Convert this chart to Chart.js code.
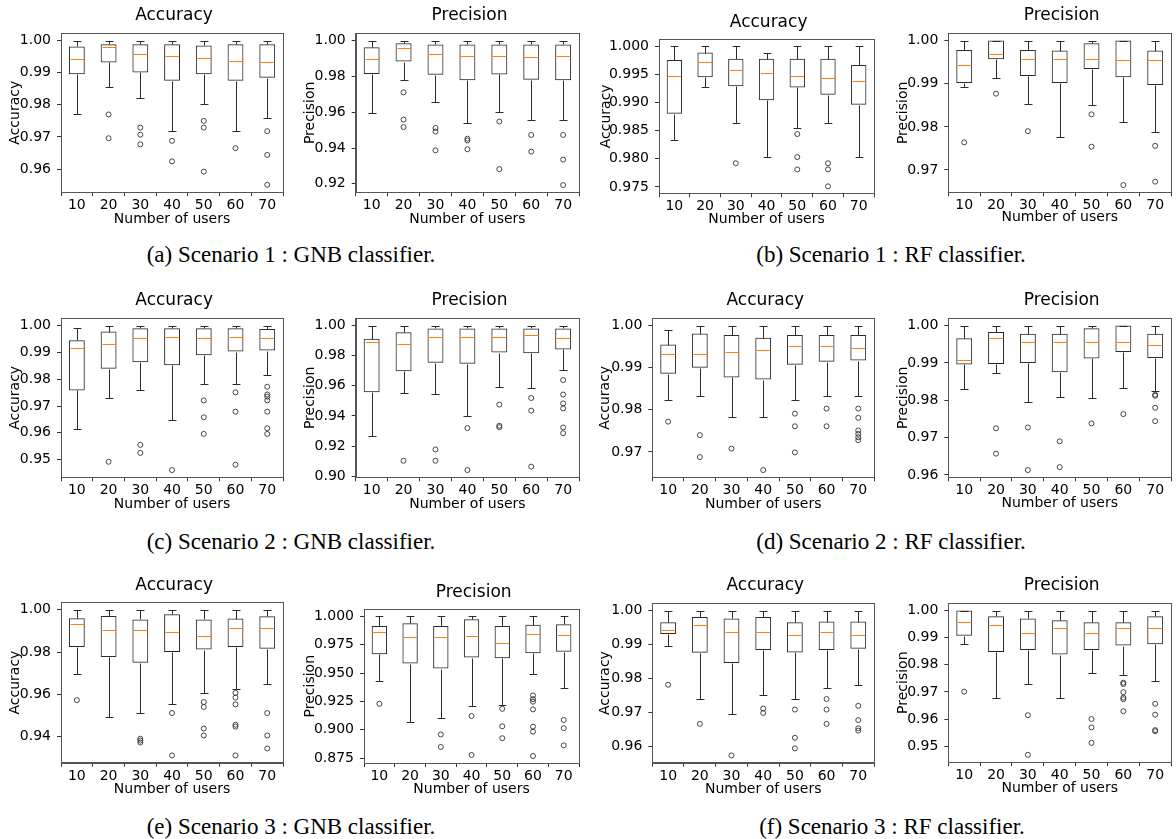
<!DOCTYPE html>
<html>
<head>
<meta charset="utf-8">
<script src="https://cdn.jsdelivr.net/npm/chart.js@4.4.1/dist/chart.umd.min.js"></script>
<style>
  html, body { margin: 0; padding: 0; background: #fff; }
  #page { position: relative; width: 1176px; height: 839px; overflow: hidden; background: #fff; }
  .caption, .ptitle {
    position: absolute;
    color: #000;
    white-space: nowrap;
    transform: translate(-50%, -50%);
    line-height: 1;
  }
  .caption { font-family: "Liberation Serif", "Times New Roman", serif; font-size: 23px; }
  .ptitle { font-family: "DejaVu Sans", sans-serif; font-size: 17px; }
</style>
</head>
<body>
<div id="page"></div>
<script>
const users = ['10', '20', '30', '40', '50', '60', '70'];

// box statistics per panel: whisker ends, quartiles, median and outliers
const s1GnbAcc = {
  lo:  [0.9770, 0.9854, 0.9822, 0.9717, 0.9802, 0.9717, 0.9759],
  q1:  [0.9895, 0.9932, 0.9901, 0.9875, 0.9895, 0.9875, 0.9884],
  med: [0.9942, 0.9979, 0.9959, 0.9952, 0.9947, 0.9937, 0.9933],
  q3:  [0.9982, 0.9989, 0.9989, 0.9989, 0.9985, 0.9989, 0.9989],
  hi:  [1.0, 1.0, 1.0, 1.0, 1.0, 1.0, 1.0],
  fliers: [[], [0.9770, 0.9696], [0.9729, 0.9707, 0.9677], [0.9688, 0.9624], [0.9750, 0.9729, 0.9592], [0.9665], [0.9718, 0.9644, 0.9551]],
  ticks: [0.96, 0.97, 0.98, 0.99, 1.00]
};
const s1GnbPrec = {
  lo:  [0.9597, 0.9778, 0.9657, 0.9538, 0.9603, 0.9554, 0.9554],
  q1:  [0.9814, 0.9883, 0.9809, 0.9779, 0.9811, 0.9781, 0.9779],
  med: [0.9895, 0.9958, 0.9927, 0.9916, 0.9916, 0.9906, 0.9916],
  q3:  [0.9963, 0.9986, 0.9979, 0.9979, 0.9979, 0.9979, 0.9979],
  hi:  [1.0, 1.0, 1.0, 1.0, 1.0, 1.0, 1.0],
  fliers: [[], [0.9711, 0.9559, 0.9517], [0.9512, 0.9492, 0.9387], [0.9452, 0.9442, 0.9393], [0.9548, 0.9282], [0.9473, 0.9380], [0.9473, 0.9335, 0.9193]],
  ticks: [0.92, 0.94, 0.96, 0.98, 1.00]
};
const s1RfAcc = {
  lo:  [0.9833, 0.9927, 0.9864, 0.9803, 0.9854, 0.9864, 0.9803],
  q1:  [0.9880, 0.9945, 0.9929, 0.9904, 0.9927, 0.9914, 0.9896],
  med: [0.9948, 0.9973, 0.9958, 0.9953, 0.9948, 0.9943, 0.9938],
  q3:  [0.9976, 0.9989, 0.9978, 0.9978, 0.9978, 0.9978, 0.9967],
  hi:  [1.0, 1.0, 1.0, 0.9989, 1.0, 1.0, 1.0],
  fliers: [[], [], [0.9792], [], [0.9844, 0.9803, 0.9781], [0.9792, 0.9781, 0.9751], []],
  ticks: [0.975, 0.980, 0.985, 0.990, 0.995, 1.000]
};
const s1RfPrec = {
  lo:  [0.9892, 0.9914, 0.9852, 0.9776, 0.9850, 0.9812, 0.9788],
  q1:  [0.9902, 0.9957, 0.9918, 0.9902, 0.9934, 0.9915, 0.9897],
  med: [0.9944, 0.9968, 0.9957, 0.9957, 0.9957, 0.9955, 0.9955],
  q3:  [0.9978, 1.0, 0.9978, 0.9977, 0.9994, 1.0, 0.9977],
  hi:  [1.0, 1.0, 1.0, 1.0, 1.0, 1.0, 1.0],
  fliers: [[0.9764], [0.9877], [0.9790], [], [0.9829, 0.9754], [0.9665], [0.9756, 0.9673]],
  ticks: [0.97, 0.98, 0.99, 1.00]
};
const s2GnbAcc = {
  lo:  [0.9616, 0.9730, 0.9761, 0.9646, 0.9782, 0.9782, 0.9815],
  q1:  [0.9758, 0.9839, 0.9863, 0.9852, 0.9889, 0.9903, 0.9907],
  med: [0.9916, 0.9933, 0.9954, 0.9958, 0.9954, 0.9958, 0.9954],
  q3:  [0.9945, 0.9978, 0.9990, 0.9990, 0.9990, 0.9990, 0.9987],
  hi:  [0.9990, 1.0, 1.0, 1.0, 1.0, 1.0, 1.0],
  fliers: [[], [0.9492], [0.9555, 0.9525], [0.9461], [0.9721, 0.9658, 0.9596], [0.9751, 0.9679, 0.9481], [0.9772, 0.9743, 0.9735, 0.9721, 0.9679, 0.9617, 0.9596]],
  ticks: [0.95, 0.96, 0.97, 0.98, 0.99, 1.00]
};
const s2GnbPrec = {
  lo:  [0.9269, 0.9552, 0.9548, 0.9400, 0.9594, 0.9585, 0.9706],
  q1:  [0.9558, 0.9696, 0.9754, 0.9746, 0.9821, 0.9817, 0.9842],
  med: [0.9888, 0.9875, 0.9923, 0.9927, 0.9927, 0.9938, 0.9917],
  q3:  [0.9913, 0.9956, 0.9981, 0.9981, 0.9981, 0.9981, 0.9981],
  hi:  [1.0, 1.0, 1.0, 1.0, 1.0, 1.0, 1.0],
  fliers: [[], [0.9102], [0.9177, 0.9102], [0.9319, 0.9040], [0.9475, 0.9335, 0.9325], [0.9519, 0.9435, 0.9063], [0.9638, 0.9542, 0.9483, 0.9450, 0.9323, 0.9285]],
  ticks: [0.90, 0.92, 0.94, 0.96, 0.98, 1.00]
};
const s2RfAcc = {
  lo:  [0.9824, 0.9833, 0.9783, 0.9783, 0.9824, 0.9833, 0.9833],
  q1:  [0.9886, 0.9900, 0.9877, 0.9872, 0.9907, 0.9914, 0.9917],
  med: [0.9933, 0.9933, 0.9938, 0.9942, 0.9952, 0.9952, 0.9948],
  q3:  [0.9955, 0.9981, 0.9978, 0.9971, 0.9978, 0.9978, 0.9978],
  hi:  [0.9990, 1.0, 1.0, 1.0, 1.0, 1.0, 1.0],
  fliers: [[0.9772], [0.9740, 0.9688], [0.9708], [0.9657], [0.9791, 0.9761, 0.9699], [0.9803, 0.9761], [0.9803, 0.9781, 0.9751, 0.9743, 0.9735, 0.9728]],
  ticks: [0.97, 0.98, 0.99, 1.00]
};
const s2RfPrec = {
  lo:  [0.9830, 0.9872, 0.9795, 0.9810, 0.9805, 0.9832, 0.9826],
  q1:  [0.9896, 0.9897, 0.9900, 0.9875, 0.9912, 0.9929, 0.9913],
  med: [0.9907, 0.9966, 0.9956, 0.9957, 0.9956, 0.9957, 0.9948],
  q3:  [0.9966, 0.9983, 0.9978, 0.9978, 0.9993, 1.0, 0.9978],
  hi:  [1.0, 1.0, 1.0, 1.0, 1.0, 1.0, 1.0],
  fliers: [[], [0.9725, 0.9657], [0.9727, 0.9613], [0.9690, 0.9621], [0.9738], [0.9763], [0.9815, 0.9812, 0.9780, 0.9744]],
  ticks: [0.96, 0.97, 0.98, 0.99, 1.00]
};
const s3GnbAcc = {
  lo:  [0.9696, 0.9491, 0.9512, 0.9553, 0.9606, 0.9625, 0.9647],
  q1:  [0.9824, 0.9777, 0.9750, 0.9800, 0.9812, 0.9824, 0.9815],
  med: [0.9933, 0.9902, 0.9902, 0.9896, 0.9875, 0.9915, 0.9915],
  q3:  [0.9960, 0.9970, 0.9954, 0.9979, 0.9954, 0.9958, 0.9969],
  hi:  [1.0, 1.0, 1.0, 1.0, 1.0, 1.0, 1.0],
  fliers: [[0.9573], [], [0.9391, 0.9382, 0.9373], [0.9512, 0.9312], [0.9564, 0.9541, 0.9439, 0.9406], [0.9607, 0.9585, 0.9553, 0.9457, 0.9448, 0.9312], [0.9512, 0.9406, 0.9345]],
  ticks: [0.94, 0.96, 0.98, 1.00]
};
const s3GnbPrec = {
  lo:  [0.9427, 0.9072, 0.9108, 0.9210, 0.9218, 0.9488, 0.9372],
  q1:  [0.9667, 0.9584, 0.9540, 0.9637, 0.9631, 0.9675, 0.9689],
  med: [0.9862, 0.9816, 0.9816, 0.9824, 0.9761, 0.9843, 0.9835],
  q3:  [0.9915, 0.9939, 0.9915, 0.9975, 0.9915, 0.9926, 0.9931],
  hi:  [1.0, 1.0, 1.0, 1.0, 1.0, 1.0, 1.0],
  fliers: [[0.9229], [], [0.8959, 0.8849], [0.9122, 0.8778], [0.9185, 0.9031, 0.8926], [0.9303, 0.9270, 0.9248, 0.9180, 0.9028, 0.8984, 0.8769], [0.9086, 0.9014, 0.8863]],
  ticks: [0.875, 0.900, 0.925, 0.950, 0.975, 1.000]
};
const s3RfAcc = {
  lo:  [0.9896, 0.9741, 0.9695, 0.9751, 0.9739, 0.9773, 0.9781],
  q1:  [0.9931, 0.9876, 0.9846, 0.9884, 0.9877, 0.9884, 0.9888],
  med: [0.9943, 0.9958, 0.9937, 0.9937, 0.9929, 0.9937, 0.9929],
  q3:  [0.9966, 0.9981, 0.9977, 0.9981, 0.9966, 0.9968, 0.9968],
  hi:  [1.0, 1.0, 1.0, 1.0, 1.0, 1.0, 1.0],
  fliers: [[0.9782], [0.9667], [0.9574], [0.9712, 0.9699], [0.9709, 0.9626, 0.9595], [0.9740, 0.9709, 0.9667], [0.9720, 0.9678, 0.9654, 0.9647]],
  ticks: [0.96, 0.97, 0.98, 0.99, 1.00]
};
const s3RfPrec = {
  lo:  [0.9877, 0.9679, 0.9729, 0.9679, 0.9771, 0.9764, 0.9739],
  q1:  [0.9907, 0.9847, 0.9855, 0.9838, 0.9855, 0.9871, 0.9876],
  med: [0.9957, 0.9946, 0.9917, 0.9937, 0.9917, 0.9937, 0.9934],
  q3:  [1.0, 0.9979, 0.9971, 0.9964, 0.9957, 0.9957, 0.9979],
  hi:  [1.0, 1.0, 1.0, 1.0, 1.0, 1.0, 1.0],
  fliers: [[0.9701], [], [0.9614, 0.9468], [], [0.9600, 0.9569, 0.9512], [0.9734, 0.9729, 0.9699, 0.9679, 0.9673, 0.9629], [0.9656, 0.9616, 0.9559, 0.9555]],
  ticks: [0.95, 0.96, 0.97, 0.98, 0.99, 1.00]
};

const captions = [
  '(a) Scenario 1 : GNB classifier.', '(b) Scenario 1 : RF classifier.',
  '(c) Scenario 2 : GNB classifier.', '(d) Scenario 2 : RF classifier.',
  '(e) Scenario 3 : GNB classifier.', '(f) Scenario 3 : RF classifier.'
];

// frame: [y-label centre, plot left, plot right, title centre, plot top, plot bottom, x-label centre]
const panels = [
  { stats: s1GnbAcc,  name: 'Accuracy',  dec: 2, frame: [15, 61, 287, 14, 22.7, 192, 220] },
  { stats: s1GnbPrec, name: 'Precision', dec: 2, frame: [310.7, 355.7, 583.3, 14, 22.7, 192.3, 220] },
  { stats: s1RfAcc,   name: 'Accuracy',  dec: 3, frame: [606, 659, 878.3, 21, 29.3, 193.3, 220] },
  { stats: s1RfPrec,  name: 'Precision', dec: 2, frame: [903, 948.3, 1175, 14, 22.7, 192.3, 218] },
  { stats: s2GnbAcc,  name: 'Accuracy',  dec: 2, frame: [15, 61, 287.3, 299, 307.7, 477.3, 505] },
  { stats: s2GnbPrec, name: 'Precision', dec: 2, frame: [310.7, 355.7, 583.3, 299, 307.7, 477.3, 505] },
  { stats: s2RfAcc,   name: 'Accuracy',  dec: 2, frame: [605.7, 652.3, 878.3, 299, 307.7, 477.3, 505] },
  { stats: s2RfPrec,  name: 'Precision', dec: 2, frame: [903, 948.3, 1175, 299, 307.7, 477.3, 504] },
  { stats: s3GnbAcc,  name: 'Accuracy',  dec: 2, frame: [15, 61, 287.3, 583.7, 592, 762.7, 790] },
  { stats: s3GnbPrec, name: 'Precision', dec: 3, frame: [310.7, 364, 583.3, 591, 599.3, 763, 790] },
  { stats: s3RfAcc,   name: 'Accuracy',  dec: 2, frame: [605.7, 652.3, 878.3, 583.7, 592.7, 762.7, 790] },
  { stats: s3RfPrec,  name: 'Precision', dec: 2, frame: [903, 948.3, 1175, 583.7, 592.7, 762, 789] }
];
const captionPos = [[291, 254], [891, 254], [291, 541], [891, 541], [291, 826], [892, 826]];

Chart.defaults.font.family = "'DejaVu Sans', sans-serif";
Chart.defaults.color = '#000';

// whiskers, caps, medians and the closed axes frame
const boxPlot = {
  id: 'boxPlot',
  afterDatasetsDraw(chart, args, opts) {
    const s = opts.stats;
    if (!s) return;
    const y = chart.scales.y;
    const ctx = chart.ctx;
    const px = v => Math.round(y.getPixelForValue(v)) + 0.5;
    const seg = (x1, y1, x2, y2) => { ctx.beginPath(); ctx.moveTo(x1, y1); ctx.lineTo(x2, y2); ctx.stroke(); };
    ctx.save();
    ctx.lineWidth = 1;
    chart.getDatasetMeta(0).data.forEach((bar, i) => {
      const x = Math.round(bar.x) + 0.5;
      const half = bar.width / 2;
      const cap = bar.width / 4;
      ctx.strokeStyle = '#2b2b2b';
      seg(x, px(s.q1[i]), x, px(s.lo[i]));
      seg(x - cap, px(s.lo[i]), x + cap, px(s.lo[i]));
      seg(x, px(s.q3[i]), x, px(s.hi[i]));
      seg(x - cap, px(s.hi[i]), x + cap, px(s.hi[i]));
      ctx.strokeStyle = '#ff7f0e';
      seg(x - half + 1, px(s.med[i]), x + half - 1, px(s.med[i]));
    });
    const a = chart.chartArea;
    ctx.strokeStyle = '#555';
    ctx.strokeRect(Math.round(a.left) + 0.5, Math.round(a.top) + 0.5,
      Math.round(a.right) - Math.round(a.left), Math.round(a.bottom) - Math.round(a.top));
    ctx.restore();
  }
};

const page = document.getElementById('page');

function addText(cls, text, x, y) {
  const el = document.createElement('div');
  el.className = cls;
  el.textContent = text;
  el.style.left = x + 'px';
  el.style.top = y + 'px';
  page.appendChild(el);
}

function makePanel(p) {
  const [ylabMid, plotL, plotR, titleMid, plotT, plotB, xlabMid] = p.frame;
  const left = Math.round(ylabMid - 8.4);
  const top = Math.round(plotT) - 4;
  const width = Math.round(plotR) + 1 - left;
  const height = Math.round(xlabMid + 8.4) - top;

  const canvas = document.createElement('canvas');
  canvas.width = width;
  canvas.height = height;
  canvas.style.cssText = `position:absolute;left:${left}px;top:${top}px;width:${width}px;height:${height}px`;
  page.appendChild(canvas);

  addText('ptitle', p.name, (plotL + plotR) / 2, titleMid);

  const s = p.stats;
  const all = [...s.lo, ...s.hi, ...s.fliers.flat()];
  const vMin = Math.min(...all), vMax = Math.max(...all);
  const margin = (vMax - vMin) * 0.05;

  const fliers = [];
  s.fliers.forEach((arr, i) => arr.forEach(v => fliers.push({ x: users[i], y: v })));

  new Chart(canvas, {
    type: 'bar',
    data: {
      labels: users,
      datasets: [
        {
          data: s.q1.map((q, i) => [q, s.q3[i]]),
          backgroundColor: 'rgba(255,255,255,0)',
          borderColor: '#2b2b2b',
          borderWidth: 1,
          borderSkipped: false,
          barPercentage: 0.5,
          categoryPercentage: 1
        },
        {
          type: 'line',
          data: fliers,
          showLine: false,
          pointRadius: 2.5,
          pointBackgroundColor: 'rgba(255,255,255,0)',
          pointBorderColor: '#333',
          pointBorderWidth: 0.9
        }
      ]
    },
    options: {
      responsive: false,
      animation: false,
      devicePixelRatio: 1,
      layout: { padding: { right: 1, top: plotT - top } },
      plugins: {
        legend: { display: false },
        tooltip: { enabled: false },
        boxPlot: { stats: s }
      },
      scales: {
        x: {
          type: 'category',
          offset: true,
          grid: { drawOnChartArea: false, tickLength: 4, color: '#333' },
          border: { color: '#555' },
          ticks: { font: { size: 14 }, maxRotation: 0, autoSkip: false, padding: 1 },
          title: { display: true, text: 'Number of users', font: { size: 14 }, padding: 0 },
          afterFit: sc => { sc.height = top + height - plotB; }
        },
        y: {
          type: 'linear',
          min: vMin - margin,
          max: vMax + margin,
          grid: { drawOnChartArea: false, tickLength: 4, color: '#333' },
          border: { color: '#555' },
          ticks: { font: { size: 14 }, padding: 6, callback: v => Number(v).toFixed(p.dec) },
          afterBuildTicks: sc => { sc.ticks = s.ticks.map(v => ({ value: v })); },
          title: { display: true, text: p.name, font: { size: 14 }, padding: 0 },
          afterFit: sc => { sc.width = plotL - left; }
        }
      }
    },
    plugins: [boxPlot]
  });
}

panels.forEach(makePanel);

captions.forEach((text, i) => addText('caption', text, captionPos[i][0], captionPos[i][1]));
</script>
</body>
</html>
